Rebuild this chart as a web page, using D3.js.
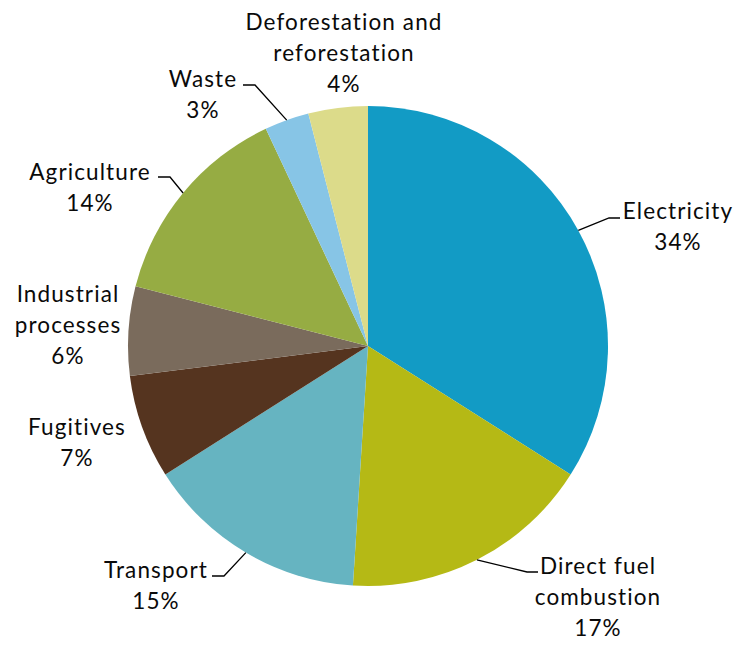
<!DOCTYPE html>
<html>
<head>
<meta charset="utf-8">
<script src="https://cdn.jsdelivr.net/npm/d3@7"></script>
<style>
  html, body { margin: 0; padding: 0; background: #fff; }
  svg text { font-family: Lato, "Open Sans", sans-serif; font-size: 22.5px; fill: #0a0a0a; letter-spacing: 1.1px; }
</style>
</head>
<body>
<svg id="chart" width="737" height="646"></svg>
<script>
// Emission sources, clockwise from 12 o'clock
const categories = ["Electricity", "Direct fuel combustion", "Transport", "Fugitives",
  "Industrial processes", "Agriculture", "Waste", "Deforestation and reforestation"];
const shares = [34, 17, 15, 7, 6, 14, 3, 4];
const colors = ["#129BC5", "#B5B915", "#66B4C1", "#55341F", "#7A6B5C", "#96AC43", "#87C5E6", "#DCDB8A"];

// Label text lines (the share line is appended from the data)
const labelLines = [
  ["Electricity"], ["Direct fuel", "combustion"], ["Transport"], ["Fugitives"],
  ["Industrial", "processes"], ["Agriculture"], ["Waste"], ["Deforestation and", "reforestation"]
];

// Label placement: text centre x, first baseline y, and optional leader elbow / end
const labelLayout = [
  { x: 678, y: 219, elbow: [609, 218], end: [620, 218] },
  { x: 598, y: 574, elbow: [527, 572], end: [538, 572] },
  { x: 156, y: 578, elbow: [224, 576], end: [212, 576] },
  { x: 77,  y: 435 },
  { x: 68,  y: 302 },
  { x: 90,  y: 180, elbow: [170, 177], end: [158, 177] },
  { x: 203, y: 87,  elbow: [255, 85],  end: [243, 85] },
  { x: 344, y: 30 }
];

const cx = 368, cy = 346, radius = 240, lineHeight = 31;

const svg = d3.select("#chart");
const g = svg.append("g").attr("transform", `translate(${cx},${cy})`);

const data = categories.map((c, i) => ({ name: c, value: shares[i], color: colors[i], i }));
const pie = d3.pie().sort(null).value(d => d.value);
const arc = d3.arc().innerRadius(0).outerRadius(radius);
const arcs = pie(data);

g.selectAll("path.slice")
  .data(arcs)
  .join("path")
  .attr("class", "slice")
  .attr("d", arc)
  .attr("fill", d => d.data.color);

// Leader lines start on the rim at each slice's mid angle
const rimPoint = a => {
  const ang = (a.startAngle + a.endAngle) / 2;
  return [cx + radius * Math.sin(ang), cy - radius * Math.cos(ang)];
};

arcs.forEach(a => {
  const L = labelLayout[a.data.i];
  if (!L.elbow) return;
  svg.append("path")
    .attr("d", d3.line()([rimPoint(a), L.elbow, L.end]))
    .attr("fill", "none")
    .attr("stroke", "#000")
    .attr("stroke-width", 1.3);
});

arcs.forEach(a => {
  const L = labelLayout[a.data.i];
  const lines = labelLines[a.data.i].concat([`${a.data.value}%`]);
  const t = svg.append("text").attr("text-anchor", "middle");
  lines.forEach((s, k) => {
    t.append("tspan").attr("x", L.x).attr("y", L.y + k * lineHeight).text(s);
  });
});
</script>
</body>
</html>
